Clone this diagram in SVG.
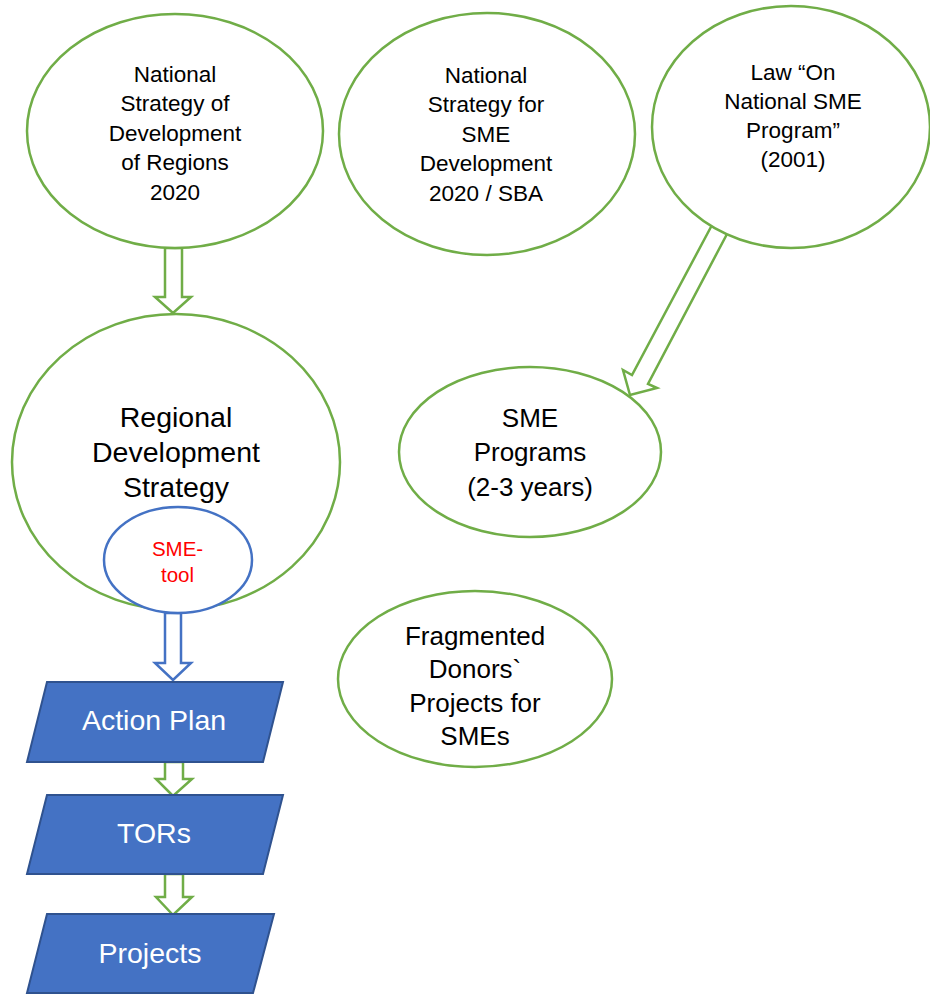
<svg xmlns="http://www.w3.org/2000/svg" width="930" height="995" viewBox="0 0 930 995">
<style>
.g{fill:#fff;stroke:#70AD47;stroke-width:2.5}
.b{fill:#fff;stroke:#4472C4;stroke-width:2.5}
.pg{fill:#4472C4;stroke:#2F528F;stroke-width:2}
.ga{fill:#fff;stroke:#70AD47;stroke-width:2.5;stroke-linejoin:miter}
.ba{fill:#fff;stroke:#4472C4;stroke-width:2.5;stroke-linejoin:miter}
text{font-family:"Liberation Sans",Arial,sans-serif;text-anchor:middle;fill:#000}
.t22{font-size:22.5px}
.t26{font-size:26px}
.t28{font-size:28.5px}
.red{font-size:20.5px;fill:#FF0000}
.w{font-size:28.5px;fill:#fff}
</style>
<rect width="930" height="995" fill="#fff"/>
<g id="connectors">
<polygon class="ga" points="165,248 182,248 182,297 191,297 173,313 155,297 165,297"/>
<polygon class="ga" points="712,225 632,375 623,370 630,395 657,388 648,384 727,234"/>
<polygon class="ba" points="165,613 181,613 181,663 191,663 173,680 155,663 165,663"/>
<polygon class="ga" points="165,762 183,762 183,779 192,779 173,796 156,779 165,779"/>
<polygon class="ga" points="165,874 183,874 183,897 192,897 173,915 156,897 165,897"/>
</g>
<g id="n1">
<ellipse class="g" cx="175" cy="131" rx="148" ry="117"/>
<text class="t22" x="175" y="81.5">National</text>
<text class="t22" x="175" y="111">Strategy of</text>
<text class="t22" x="175" y="140.5">Development</text>
<text class="t22" x="175" y="170">of Regions</text>
<text class="t22" x="175" y="199.5">2020</text>
</g>
<g id="n2">
<ellipse class="g" cx="487" cy="134" rx="148" ry="121"/>
<text class="t22" x="486" y="82.5">National</text>
<text class="t22" x="486" y="112">Strategy for</text>
<text class="t22" x="486" y="141.5">SME</text>
<text class="t22" x="486" y="171">Development</text>
<text class="t22" x="486" y="200.5">2020 / SBA</text>
</g>
<g id="n3">
<ellipse class="g" cx="791" cy="127" rx="139" ry="121"/>
<text class="t22" x="793" y="80">Law “On</text>
<text class="t22" x="793" y="109">National SME</text>
<text class="t22" x="793" y="138">Program”</text>
<text class="t22" x="793" y="167">(2001)</text>
</g>
<g id="n4">
<ellipse class="g" cx="176" cy="462" rx="164" ry="148"/>
<text class="t28" x="176" y="426.5">Regional</text>
<text class="t28" x="176" y="462">Development</text>
<text class="t28" x="176" y="497">Strategy</text>
</g>
<g id="n5">
<ellipse class="b" cx="178" cy="560" rx="74" ry="53"/>
<text class="red" x="177.5" y="556">SME-</text>
<text class="red" x="177.5" y="581.5">tool</text>
</g>
<g id="n6">
<ellipse class="g" cx="530" cy="452" rx="131" ry="85"/>
<text class="t26" x="530" y="426.5">SME</text>
<text class="t26" x="530" y="461">Programs</text>
<text class="t26" x="530" y="495.5">(2-3 years)</text>
</g>
<g id="n7">
<ellipse class="g" cx="475" cy="679" rx="137" ry="88"/>
<text class="t26" x="475" y="644.5">Fragmented</text>
<text class="t26" x="475" y="678">Donors`</text>
<text class="t26" x="475" y="711.5">Projects for</text>
<text class="t26" x="475" y="744.5">SMEs</text>
</g>
<g id="n8">
<polygon class="pg" points="47,682 283,682 263,762 27,762"/>
<text class="w" x="154" y="730">Action Plan</text>
</g>
<g id="n9">
<polygon class="pg" points="47,795 283,795 263,874 27,874"/>
<text class="w" x="154" y="842.5">TORs</text>
</g>
<g id="n10">
<polygon class="pg" points="47,914 274,914 253,993 27,993"/>
<text class="w" x="150" y="962.5">Projects</text>
</g>
</svg>
